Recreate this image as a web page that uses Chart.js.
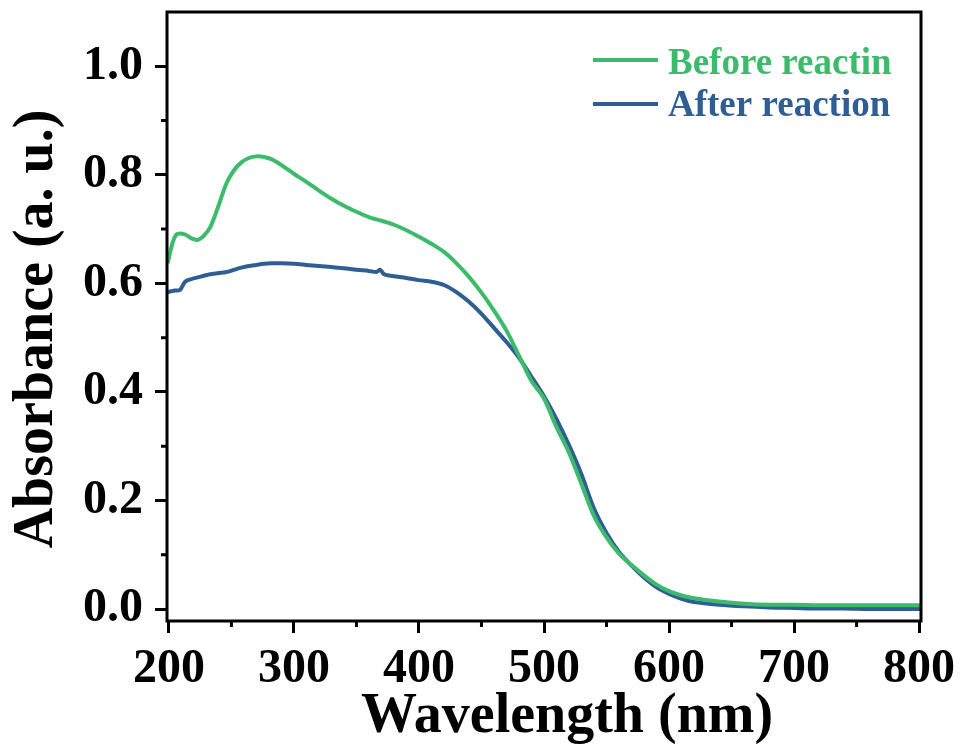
<!DOCTYPE html>
<html>
<head>
<meta charset="utf-8">
<script src="https://cdn.jsdelivr.net/npm/chart.js@4.4.0/dist/chart.umd.min.js"></script>
<style>
    body { margin: 0; background: #fff; }
    #wrap { width: 961px; height: 753px; }
</style>
</head>
<body>
<div id="wrap"><canvas id="grafico" width="961" height="753"></canvas></div>
<script>
    // Datos
    const wavelengths = [199, 203, 206, 209, 213, 218, 223, 228, 233, 240, 246, 252, 258, 264, 270, 276, 282, 290,
        300, 310, 320, 330, 340, 350, 360, 366, 369, 372, 375, 380, 390, 400, 410, 420, 430, 440, 450, 460, 470,
        480, 490, 500, 510, 520, 530, 540, 550, 560, 570, 580, 590, 600, 610, 620, 640, 660, 680, 700, 720, 740,
        760, 780, 801];

    const beforeReaction = [0.637, 0.675, 0.690, 0.692, 0.690, 0.683, 0.680, 0.688, 0.703, 0.745, 0.784, 0.808,
        0.823, 0.831, 0.834, 0.833, 0.829, 0.818, 0.802, 0.787, 0.771, 0.756, 0.743, 0.732, 0.722, 0.718, 0.716,
        0.714, 0.712, 0.708, 0.698, 0.686, 0.673, 0.658, 0.637, 0.612, 0.583, 0.550, 0.513, 0.467, 0.420, 0.388,
        0.335, 0.288, 0.230, 0.171, 0.132, 0.102, 0.081, 0.062, 0.045, 0.033, 0.025, 0.020, 0.014, 0.010, 0.008,
        0.008, 0.007, 0.007, 0.007, 0.007, 0.007];

    const afterReaction = [0.584, 0.586, 0.587, 0.588, 0.603, 0.608, 0.611, 0.614, 0.617, 0.619, 0.621, 0.625,
        0.629, 0.632, 0.634, 0.636, 0.637, 0.637, 0.636, 0.634, 0.632, 0.630, 0.628, 0.625, 0.623, 0.621, 0.625,
        0.617, 0.615, 0.613, 0.610, 0.606, 0.603, 0.597, 0.584, 0.566, 0.544, 0.518, 0.492, 0.463, 0.428, 0.392,
        0.350, 0.302, 0.248, 0.185, 0.140, 0.105, 0.080, 0.058, 0.040, 0.028, 0.019, 0.013, 0.008, 0.005, 0.003,
        0.002, 0.001, 0.001, 0.000, 0.000, 0.000];

    const seriesLabels = ['Before reactin', 'After reaction'];
    const xTicks = [200, 300, 400, 500, 600, 700, 800];
    const xMinorTicks = [250, 350, 450, 550, 650, 750];
    const yTicks = [0.0, 0.2, 0.4, 0.6, 0.8, 1.0];
    const yMinorTicks = [0.1, 0.3, 0.5, 0.7, 0.9];
    const xTitle = 'Wavelength (nm)';
    const yTitle = 'Absorbance (a. u.)';

    const colors = {
        before: '#3dba6c',
        after: '#2f5e95',
        axis: '#000'
    };
    const fontFamily = "'Liberation Serif', 'Times New Roman', serif";

    const toPoints = (xs, ys) => xs.map((x, i) => ({ x: x, y: ys[i] }));

    /**
     * Marco, ticks menores, títulos y leyenda
     */
    const framePlugin = {
        id: 'framePlugin',
        afterDraw: function(chart) {
            const ctx = chart.ctx;
            const area = chart.chartArea;
            const xs = chart.scales.x;
            const ys = chart.scales.y;
            ctx.save();
            ctx.strokeStyle = colors.axis;
            ctx.lineWidth = 3;
            ctx.strokeRect(area.left, area.top, area.right - area.left, area.bottom - area.top);

            // ticks menores
            ctx.beginPath();
            xMinorTicks.forEach(v => {
                const px = xs.getPixelForValue(v);
                ctx.moveTo(px, area.bottom);
                ctx.lineTo(px, area.bottom + 6);
            });
            yMinorTicks.forEach(v => {
                const py = ys.getPixelForValue(v);
                ctx.moveTo(area.left, py);
                ctx.lineTo(area.left - 6, py);
            });
            ctx.stroke();

            // títulos de los ejes
            ctx.fillStyle = '#000';
            ctx.font = 'bold 56px ' + fontFamily;
            ctx.textAlign = 'center';
            ctx.textBaseline = 'alphabetic';
            ctx.fillText(xTitle, 567, 732);
            ctx.save();
            ctx.translate(52, 329);
            ctx.rotate(-Math.PI / 2);
            ctx.fillText(yTitle, 0, 0);
            ctx.restore();

            // leyenda
            const items = [
                { label: chart.data.datasets[0].label, color: colors.before, lineY: 60, textY: 74 },
                { label: chart.data.datasets[1].label, color: colors.after, lineY: 104, textY: 116 }
            ];
            ctx.font = 'bold 37px ' + fontFamily;
            ctx.textAlign = 'left';
            items.forEach(item => {
                ctx.strokeStyle = item.color;
                ctx.lineWidth = 4;
                ctx.beginPath();
                ctx.moveTo(593, item.lineY);
                ctx.lineTo(658, item.lineY);
                ctx.stroke();
                ctx.fillStyle = item.color;
                ctx.fillText(item.label, 668, item.textY);
            });
            ctx.restore();
        }
    };

    const ctx = document.getElementById('grafico');
    new Chart(ctx, {
        type: 'line',
        data: {
            datasets: [
                {
                    label: seriesLabels[0],
                    data: toPoints(wavelengths, beforeReaction),
                    borderColor: colors.before,
                    borderWidth: 4,
                    pointRadius: 0,
                    tension: 0.3,
                    fill: false
                },
                {
                    label: seriesLabels[1],
                    data: toPoints(wavelengths, afterReaction),
                    borderColor: colors.after,
                    borderWidth: 4,
                    pointRadius: 0,
                    tension: 0.3,
                    fill: false
                }
            ]
        },
        options: {
            responsive: false,
            animation: false,
            layout: {
                padding: { top: 12, right: 40, left: 0, bottom: 0 }
            },
            plugins: {
                legend: { display: false },
                tooltip: { enabled: false }
            },
            scales: {
                x: {
                    type: 'linear',
                    min: 198.5,
                    max: 801.5,
                    afterFit: function(scale) {
                        scale.height = 132;
                        scale.paddingLeft = 0;
                        scale.paddingRight = 0;
                    },
                    afterBuildTicks: function(scale) { scale.ticks = xTicks.map(v => ({ value: v })); },
                    border: { display: false },
                    grid: {
                        drawOnChartArea: false,
                        drawTicks: true,
                        tickLength: 12,
                        tickWidth: 3,
                        tickColor: colors.axis
                    },
                    ticks: {
                        color: '#000',
                        padding: 8,
                        maxRotation: 0,
                        font: { family: fontFamily, size: 48, weight: 'bold' }
                    },
                    title: { display: false }
                },
                y: {
                    type: 'linear',
                    min: -0.022,
                    max: 1.1,
                    afterFit: function(scale) {
                        scale.width = 167;
                        scale.paddingTop = 0;
                        scale.paddingBottom = 0;
                    },
                    afterBuildTicks: function(scale) { scale.ticks = yTicks.map(v => ({ value: v })); },
                    border: { display: false },
                    grid: {
                        drawOnChartArea: false,
                        drawTicks: true,
                        tickLength: 12,
                        tickWidth: 3,
                        tickColor: colors.axis
                    },
                    ticks: {
                        color: '#000',
                        padding: 12,
                        callback: v => Number(v).toFixed(1),
                        font: { family: fontFamily, size: 48, weight: 'bold' }
                    },
                    title: { display: false }
                }
            }
        },
        plugins: [framePlugin]
    });
</script>
</body>
</html>
